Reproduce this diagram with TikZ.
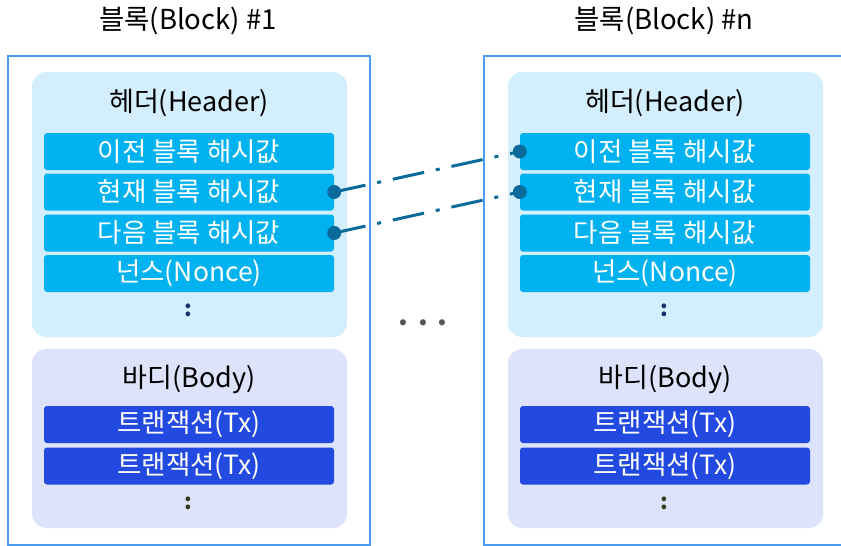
\documentclass[tikz,border=0pt]{standalone}
\usepackage{fontspec}
\setmainfont{Noto Sans CJK KR}
\definecolor{blockline}{HTML}{4A9CF0}
\definecolor{headfill}{HTML}{D3EEFD}
\definecolor{bodyfill}{HTML}{DDE3FA}
\definecolor{rowcyan}{HTML}{00B2F0}
\definecolor{rowblue}{HTML}{2249E0}
\definecolor{linkcol}{HTML}{0B6A9C}
\definecolor{navydot}{HTML}{15306A}
\definecolor{olivedot}{HTML}{3A3A20}
\definecolor{greydot}{HTML}{555555}
\tikzset{
  blockbox/.style={draw=blockline, line width=2.2pt},
  headpanel/.style={fill=headfill, rounded corners=14pt},
  bodypanel/.style={fill=bodyfill, rounded corners=14pt},
  hrow/.style={fill=rowcyan, rounded corners=3pt, minimum width=290pt, minimum height=37pt,
    inner sep=0pt, text=white, font=\fontsize{26.5}{28}\selectfont},
  trow/.style={hrow, fill=rowblue},
  paneltitle/.style={font=\fontsize{27}{30}\selectfont, text=black},
  blocktitle/.style={font=\fontsize{27.5}{30}\selectfont, text=black},
  vdots/.style={font=\bfseries\fontsize{22}{24}\selectfont, inner sep=0pt},
  link/.style={draw=linkcol, line width=3pt, dash pattern=on 32pt off 12pt on 4pt off 12pt},
  linkend/.style={fill=linkcol, circle, inner sep=0pt, minimum size=14pt}
}
\begin{document}
\begin{tikzpicture}[x=1pt, y=-1pt]
  \useasboundingbox (0,0) rectangle (841,546);
  \clip (0,0) rectangle (841,546);

  % one block frame with its header and body, shifted by \dx
  \foreach \dx/\tag/\nm in {0/1/a, 476/n/b} {
    \begin{scope}[xshift=\dx pt]
      \node[blocktitle] (title\nm) at (188,21) {블록(Block) \#\tag};
      \draw[blockbox] (8,56) rectangle (370,545);
      \fill[headpanel] (32,72) rectangle (347,337);
      \fill[bodypanel] (32,349) rectangle (347,528);
      \node[paneltitle] (head\nm) at (189,103) {헤더(Header)};
      \node[hrow] (prev\nm)  at (189,151.5) {이전 블록 해시값};
      \node[hrow] (cur\nm)   at (189,192)   {현재 블록 해시값};
      \node[hrow] (next\nm)  at (189,233)   {다음 블록 해시값};
      \node[hrow] (nonce\nm) at (189,273.5) {넌스(Nonce)};
      \node[vdots, text=navydot] (hdots\nm) at (188,310) {:};
      \node[paneltitle] (body\nm) at (189,379) {바디(Body)};
      \node[trow] (txone\nm) at (189,424.5) {트랜잭션(Tx)};
      \node[trow] (txtwo\nm) at (189,466)   {트랜잭션(Tx)};
      \node[vdots, text=olivedot] (bdots\nm) at (188,503) {:};
    \end{scope}
  }

  % gap between the two blocks
  \node[font=\bfseries\fontsize{28}{30}\selectfont, text=greydot, inner sep=0pt] (gap) at (423,323) {.\hspace{10pt}.\hspace{10pt}.};

  % hash links between the blocks
  \draw[link] (cura.east) -- (prevb.west);
  \draw[link] (nexta.east) -- (curb.west);
  \node[linkend] at (cura.east) {};
  \node[linkend] at (nexta.east) {};
  \node[linkend] at (prevb.west) {};
  \node[linkend] at (curb.west) {};
\end{tikzpicture}
\end{document}
